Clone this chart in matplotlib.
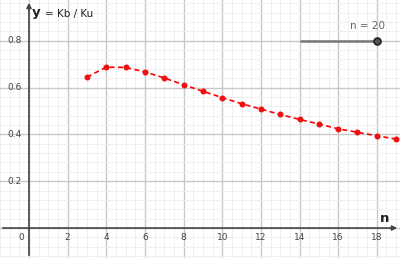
import numpy as np
import matplotlib.pyplot as plt

# data
n_vals = [3, 4, 5, 6, 7, 8, 9, 10, 11, 12, 13, 14, 15, 16, 17, 18, 19]
ratio = [0.645, 0.687, 0.686, 0.667, 0.641, 0.612, 0.584, 0.557, 0.531,
         0.508, 0.485, 0.464, 0.444, 0.424, 0.409, 0.394, 0.380]
x_ticks = [2, 4, 6, 8, 10, 12, 14, 16, 18]
y_ticks = [0.2, 0.4, 0.6, 0.8]
slider_value = 20

fig = plt.figure(figsize=(4, 2.58), dpi=100)
ax = fig.add_axes([0, 0, 1, 1])
xmin, xmax = -1.5, 19.2
ymin, ymax = -0.128, 0.974
ax.set_xlim(xmin, xmax)
ax.set_ylim(ymin, ymax)
for s in ax.spines.values():
    s.set_visible(False)
ax.set_xticks([])
ax.set_yticks([])

# grid
for x in np.arange(-1.5, 19.5, 0.5):
    major = abs(x / 2 - round(x / 2)) < 1e-9
    ax.axvline(x, color='#c8c8c8' if major else '#efefef',
               lw=1.0 if major else 0.7, zorder=0)
for y in np.arange(-0.12, 0.98, 0.04):
    major = abs(y / 0.2 - round(y / 0.2)) < 1e-6
    ax.axhline(y, color='#c8c8c8' if major else '#efefef',
               lw=1.0 if major else 0.7, zorder=0)

# axes with arrows
ax.annotate('', xy=(xmax, 0), xytext=(xmin, 0),
            arrowprops=dict(arrowstyle='-|>', color='#444444', lw=1.2,
                            mutation_scale=7), zorder=2)
ax.annotate('', xy=(0, ymax), xytext=(0, ymin),
            arrowprops=dict(arrowstyle='-|>', color='#444444', lw=1.2,
                            mutation_scale=7), zorder=2)

# tick labels
for x in x_ticks:
    ax.text(x, -0.04, str(x), ha='center', va='center', fontsize=6.5,
            color='#444444')
ax.text(-0.4, -0.04, '0', ha='center', va='center', fontsize=6.5,
        color='#444444')
for y in y_ticks:
    ax.text(-0.75, y, f'{y:.1f}', ha='center', va='center', fontsize=6.5,
            color='#444444')

ax.text(0.15, 0.92, 'y', ha='left', va='center', fontsize=9.5,
        fontweight='bold', color='#222222')
ax.text(0.85, 0.915, '= Kb / Ku', ha='left', va='center',
        fontsize=7.5, color='#222222')
ax.text(18.4, 0.04, 'n', ha='center', va='center', fontsize=9.5,
        fontweight='bold', color='#222222')

# curve
ax.plot(n_vals, ratio, color='#ff0000', ls='--', lw=1.2, dashes=(3, 2),
        zorder=3)
ax.plot(n_vals, ratio, 'o', color='#ee1111', ms=3.3, zorder=4)

# slider
ax.plot([14, 18], [0.8, 0.8], color='#777777', lw=1.8, zorder=3,
        solid_capstyle='butt')
ax.plot([18], [0.8], 'o', ms=5, mfc='#555555', mec='#222222', mew=1.2,
        zorder=4)
ax.text(17.5, 0.84, f'n = {slider_value}', ha='center', va='bottom',
        fontsize=7.5, color='#666666')

fig.savefig('out.png', dpi=100)
